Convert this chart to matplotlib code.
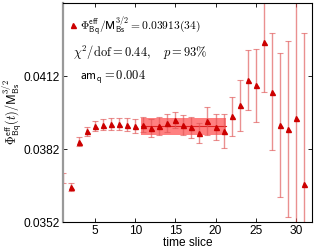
import matplotlib
matplotlib.use("Agg")
import matplotlib.pyplot as plt
import numpy as np

plt.rcParams['font.family'] = ['Liberation Sans', 'DejaVu Sans']
plt.rcParams['mathtext.fontset'] = 'cm'

t = [1, 2, 3, 4, 5, 6, 7, 8, 9, 10, 11, 12, 13, 14, 15, 16, 17, 18, 19, 20,
     21, 22, 23, 24, 25, 26, 27, 28, 29, 30, 31]
phi = [0.03700, 0.03665, 0.03850, 0.03892, 0.03914, 0.03920, 0.03923, 0.03923,
       0.03919, 0.03914, 0.03919, 0.03908, 0.03914, 0.03928, 0.03939, 0.03919,
       0.03909, 0.03887, 0.03936, 0.03909, 0.03894, 0.03954, 0.03999, 0.04104,
       0.04083, 0.04258, 0.04056, 0.03919, 0.03902, 0.03946, 0.03676]
err = [0.00020, 0.00016, 0.00019, 0.00019, 0.00020, 0.00023, 0.00023, 0.00025,
       0.00027, 0.00029, 0.00031, 0.00037, 0.00037, 0.00037, 0.00034, 0.00041,
       0.00044, 0.00041, 0.00058, 0.00053, 0.00069, 0.00080, 0.00104, 0.00123,
       0.00150, 0.00203, 0.00240, 0.00295, 0.00363, 0.00520, 0.00620]
fit_range = [11, 21]
fit_val = 0.03913
fit_err = 0.00034
xticks = [5, 10, 15, 20, 25, 30]
yticks = [0.0352, 0.0382, 0.0412]

fig = plt.figure(figsize=(3.15, 2.52), dpi=100)
ax = fig.add_axes([0.2, 0.119, 0.79, 0.869])

# fit band
xb = [fit_range[0] - 0.3, fit_range[1] + 0.3]
ax.fill_between(xb, fit_val - fit_err, fit_val + fit_err, color='#ff5555',
                alpha=0.75, lw=0, zorder=1)
ax.plot(xb, [fit_val, fit_val], color='#dd2222', lw=0.8, zorder=1.5)

red = '#cc0000'
ax.errorbar(t, phi, yerr=err, fmt='none', ecolor='#e05555', alpha=0.65,
            elinewidth=1.0, capsize=2.5, capthick=0.8, zorder=2)
ax.plot(t[1:], phi[1:], linestyle='none', marker='^', color=red,
        markersize=3.6, zorder=3)

ax.set_xlim(1, 32)
ax.set_ylim(0.0352, 0.0442)
ax.set_xticks(xticks)
ax.set_yticks(yticks)
ax.set_yticklabels(['0.0352', '0.0382', '0.0412'])
ax.tick_params(direction='in', top=True, right=True, labelsize=8.6,
               length=3, width=0.6, pad=2)
for s in ['top', 'right', 'bottom']:
    ax.spines[s].set_linewidth(0.8)
ax.spines['left'].set_color('#999999')
ax.spines['left'].set_linewidth(1.6)

ax.set_xlabel('time slice', fontsize=8.6, labelpad=0)
ax.set_ylabel(r'$\mathsf{\Phi^{eff}_{Bq}}(t)/\mathsf{M^{3/2}_{Bs}}$',
              fontsize=8.8)
ax.yaxis.set_label_coords(-0.158, 0.5)

# legend-like annotations
ax.plot([0.04], [0.898], transform=ax.transAxes, linestyle='none',
        marker='^', color=red, markersize=3.6, clip_on=False)
ax.text(0.068, 0.878, r'$\mathsf{\Phi^{eff}_{Bq}/M^{3/2}_{Bs}}=0.03913(34)$',
        transform=ax.transAxes, fontsize=8.3, va='baseline', ha='left')
ax.text(0.04, 0.753, r'$\chi^2/\mathrm{dof}=0.44,\quad p=93\%$',
        transform=ax.transAxes, fontsize=9, va='baseline', ha='left')
ax.text(0.068, 0.648, r'$\mathsf{am_q}=0.004$',
        transform=ax.transAxes, fontsize=9, va='baseline', ha='left')

fig.savefig('out.png', dpi=100)
